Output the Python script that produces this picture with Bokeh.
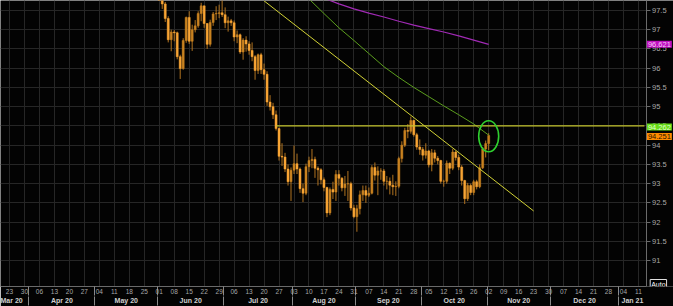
import numpy as np
import pandas as pd
from bokeh.plotting import figure
from bokeh.models import (ColumnDataSource, FixedTicker, LinearAxis, Label,
                          NumeralTickFormatter, Range1d, BoxAnnotation)
from bokeh.embed import file_html
from bokeh.resources import INLINE

# ---------------- data ----------------
axis_origin = "2020-03-23"          # first Monday on the time axis
first_candle = "2020-06-01"

opens = [98.34, 97.83, 97.67, 97.29, 96.74, 96.94, 96.92, 96.30, 95.99, 96.72, 97.32,
         96.70, 97.00, 97.10, 97.42, 97.62, 97.16, 96.62, 97.19, 97.41, 97.42, 97.44,
         97.39, 97.18, 97.23, 97.18, 96.81, 96.87, 96.42, 96.73, 96.63, 96.46, 96.30,
         95.94, 96.35, 95.96, 95.84, 95.12, 95.00, 94.79, 94.43, 93.71, 93.69, 93.38,
         93.05, 93.35, 93.52, 93.38, 92.87, 92.75, 93.44, 93.60, 93.63, 93.40, 93.36,
         93.10, 92.90, 92.24, 92.85, 92.78, 93.24, 93.14, 92.89, 92.99, 93.00, 92.37,
         92.14, 92.35, 92.71, 92.82, 92.70, 92.75, 93.42, 93.22, 93.33, 93.33, 93.06,
         93.06, 92.96, 92.92, 92.93, 93.65, 94.00, 94.38, 94.36, 94.64, 94.27, 93.95,
         93.89, 93.74, 93.85, 93.49, 93.80, 93.66, 93.60, 93.06, 93.06, 93.53, 93.40,
         93.82, 93.68, 93.43, 93.08, 92.61, 92.95, 92.77, 93.05, 92.92, 93.41, 93.90,
         94.04]
highs = [98.40, 98.02, 97.72, 97.35, 97.00, 96.99, 96.95, 96.35, 96.78, 97.34, 97.48,
         97.13, 97.25, 97.48, 97.70, 97.62, 97.17, 97.26, 97.46, 97.61, 97.65, 97.80,
         97.58, 97.34, 97.28, 97.24, 96.98, 96.90, 96.78, 96.83, 96.70, 96.67, 96.34,
         96.38, 96.40, 96.12, 95.92, 95.30, 95.10, 94.90, 94.46, 94.05, 93.80, 93.50,
         93.42, 93.99, 93.78, 93.42, 93.00, 93.52, 93.70, 93.90, 93.70, 93.45, 93.40,
         93.16, 92.92, 92.90, 93.05, 93.35, 93.35, 93.17, 93.20, 93.33, 93.05, 92.45,
         92.45, 92.82, 92.95, 92.95, 92.90, 93.48, 93.55, 93.45, 93.40, 93.38, 93.20,
         93.16, 93.23, 93.06, 93.70, 94.10, 94.45, 94.55, 94.74, 94.66, 94.32, 94.15,
         93.95, 94.05, 93.88, 93.90, 93.88, 93.72, 93.62, 93.10, 93.60, 93.55, 93.90,
         93.85, 93.75, 93.48, 93.10, 93.02, 93.00, 93.10, 93.10, 93.50, 93.95, 94.12,
         94.31]
lows = [97.81, 97.54, 97.20, 96.67, 96.44, 96.70, 96.23, 95.72, 95.96, 96.66, 96.63,
        96.45, 96.93, 97.05, 97.22, 97.05, 96.50, 96.56, 97.10, 97.25, 97.30, 97.33,
        97.04, 96.95, 97.10, 96.70, 96.65, 96.37, 96.22, 96.43, 96.35, 96.18, 95.70,
        95.85, 95.85, 95.70, 95.02, 94.90, 94.68, 94.38, 93.60, 93.46, 93.30, 92.95,
        92.55, 93.25, 93.25, 92.76, 92.52, 92.70, 93.30, 93.40, 93.15, 92.95, 92.98,
        92.80, 92.13, 92.18, 92.60, 92.55, 92.95, 92.80, 92.68, 92.55, 92.30, 92.10,
        91.75, 92.20, 92.55, 92.50, 92.65, 92.72, 93.08, 92.70, 93.10, 92.95, 92.85,
        92.72, 92.70, 92.68, 92.88, 93.55, 93.95, 94.18, 94.30, 94.22, 93.88, 93.75,
        93.60, 93.65, 93.42, 93.32, 93.55, 93.50, 93.00, 92.92, 93.00, 93.25, 93.35,
        93.60, 93.35, 92.95, 92.47, 92.55, 92.70, 92.70, 92.85, 92.88, 93.38, 93.68,
        93.87]
closes = [97.83, 97.67, 97.29, 96.74, 96.94, 96.92, 96.30, 95.99, 96.72, 97.32, 96.70,
          97.00, 97.10, 97.42, 97.62, 97.16, 96.62, 97.19, 97.41, 97.42, 97.44, 97.39,
          97.18, 97.23, 97.18, 96.81, 96.87, 96.42, 96.73, 96.63, 96.46, 96.30, 95.94,
          96.35, 95.96, 95.84, 95.12, 95.00, 94.79, 94.43, 93.71, 93.69, 93.38, 93.05,
          93.35, 93.52, 93.38, 92.87, 92.75, 93.44, 93.60, 93.63, 93.40, 93.36, 93.10,
          92.90, 92.24, 92.85, 92.78, 93.24, 93.14, 92.89, 92.99, 93.00, 92.37, 92.14,
          92.35, 92.71, 92.82, 92.70, 92.75, 93.42, 93.22, 93.33, 93.33, 93.06, 93.06,
          92.96, 92.92, 92.93, 93.65, 94.00, 94.38, 94.36, 94.64, 94.27, 93.95, 93.89,
          93.74, 93.85, 93.49, 93.80, 93.66, 93.60, 93.06, 93.06, 93.53, 93.40, 93.82,
          93.68, 93.43, 93.08, 92.61, 92.95, 92.77, 93.05, 92.92, 93.41, 93.90, 94.04,
          94.25]

ma_green_dates = ["2020-08-03", "2020-08-10", "2020-08-17", "2020-08-24", "2020-08-31",
                  "2020-09-07", "2020-09-14", "2020-09-21", "2020-09-28", "2020-10-05",
                  "2020-10-12", "2020-10-19", "2020-10-26", "2020-11-02"]
ma_green_values = [98.18, 97.80, 97.42, 97.05, 96.72, 96.38, 96.04, 95.76, 95.50, 95.26,
                   95.02, 94.79, 94.55, 94.26]
ma_magenta_dates = ["2020-08-17", "2020-08-24", "2020-08-31", "2020-09-07", "2020-09-14",
                    "2020-09-21", "2020-09-28", "2020-10-05", "2020-10-12", "2020-10-19",
                    "2020-10-26", "2020-11-02"]
ma_magenta_values = [97.82, 97.67, 97.54, 97.43, 97.33, 97.22, 97.12, 97.03, 96.94, 96.84,
                     96.73, 96.62]

trend_dates = ["2020-07-20", "2020-11-23"]
trend_values = [97.75, 92.29]
level_dates = ["2020-07-24", "2021-01-13"]
level_values = [94.50, 94.50]

highlight_date = "2020-11-02"
highlight_value = 94.23

value_tags = ["96.621", "94.262", "94.251"]
value_levels = [96.621, 94.262, 94.251]

day_tick_dates = pd.date_range("2020-03-23", "2021-01-11", freq="W-MON")
month_labels = ["Mar 20", "Apr 20", "May 20", "Jun 20", "Jul 20", "Aug 20",
                "Sep 20", "Oct 20", "Nov 20", "Dec 20", "Jan 21"]
month_starts = pd.date_range("2020-03-01", "2021-02-01", freq="BMS")

y_ticks = [91, 91.5, 92, 92.5, 93, 93.5, 94, 94.5, 95, 95.5, 96, 96.5, 97, 97.5]


def pos(d):
    return int(np.busday_count(np.datetime64(axis_origin), np.datetime64(pd.Timestamp(d).date())))


# ---------------- layout constants ----------------
W, H = 673, 306
PX = 2.995                      # pixels per trading day
X0 = -3.0
X1 = X0 + W / PX                # frame spans the whole width
AX = X0 + 645.5 / PX            # where the price axis sits
Y0, Y1 = 90.327, 97.759
DPX = (Y1 - Y0) / 287.0
BG = "#030303"

p = figure(width=W, height=H, output_backend="svg", toolbar_location=None,
           x_range=Range1d(X0, X1), y_range=Range1d(Y0, Y1),
           y_axis_location="right",
           min_border_left=0, min_border_top=0, min_border_right=0, min_border_bottom=19,
           background_fill_color=BG, border_fill_color=BG, outline_line_color=None)

# x axis (day numbers)
day_pos = [pos(d) for d in day_tick_dates]
month_bounds = [pos(d) - 0.5 for d in month_starts]
xa = p.xaxis[0]
xa.ticker = FixedTicker(ticks=day_pos, minor_ticks=month_bounds)
xa.major_label_overrides = {dp: f"{d.day:02d}" for dp, d in zip(day_pos, day_tick_dates)}
xa.bounds = (X0, AX)
xa.major_tick_out = 0
xa.major_tick_in = 0
xa.minor_tick_out = 0
xa.minor_tick_in = -9
xa.minor_tick_line_color = "#8a8a8a"
xa.axis_line_color = "#6a6a6a"
xa.major_label_text_font = "Liberation Sans"
xa.major_label_text_font_size = "6.5px"
xa.major_label_text_color = "#a8a8a8"
xa.major_label_standoff = 2

# month row
month_centers = []
for i in range(len(month_labels)):
    a = month_bounds[i]
    b = month_bounds[i + 1]
    c = (max(a, X0) + min(b, AX)) / 2.0
    if a < X0:
        c = X0 + 0.05
    month_centers.append(c)
xm = LinearAxis(ticker=FixedTicker(ticks=month_centers, minor_ticks=month_bounds))
xm.major_label_overrides = {c: t for c, t in zip(month_centers, month_labels)}
xm.bounds = (X0, AX)
xm.major_tick_out = 0
xm.major_tick_in = 0
xm.minor_tick_out = 0
xm.minor_tick_in = -9
xm.minor_tick_line_color = "#8a8a8a"
xm.axis_line_color = None
xm.major_label_text_font = "Liberation Sans"
xm.major_label_text_font_style = "bold"
xm.major_label_text_font_size = "7px"
xm.major_label_text_color = "#d0d0d0"
xm.major_label_standoff = 0
p.add_layout(xm, "below")

# y axis (right, drawn at a fixed place inside the canvas)
ya = p.yaxis[0]
ya.fixed_location = AX
ya.ticker = FixedTicker(ticks=y_ticks)
ya.formatter = NumeralTickFormatter(format="0.[0]")
ya.major_tick_out = 4
ya.major_tick_in = 0
ya.minor_tick_out = 0
ya.minor_tick_in = 0
ya.axis_line_color = "#6a6a6a"
ya.major_tick_line_color = "#6a6a6a"
ya.major_label_text_font = "Liberation Sans"
ya.major_label_text_font_size = "7.5px"
ya.major_label_text_color = "#a8a8a8"
ya.major_label_standoff = 2

p.xgrid.grid_line_color = "#262626"
p.ygrid.grid_line_color = "#262626"
try:
    p.ygrid.cross_bounds = (X0, AX)
except Exception:
    p.add_layout(BoxAnnotation(left=AX, fill_color=BG, fill_alpha=1.0,
                               line_color=None, level="underlay"))

# ---------------- candles ----------------
dates = pd.bdate_range(first_candle, periods=len(closes))
xs = [pos(d) for d in dates]
up = [c >= o for o, c in zip(opens, closes)]
src = ColumnDataSource(dict(
    x=xs, high=highs, low=lows,
    top=[max(o, c) for o, c in zip(opens, closes)],
    bottom=[min(o, c) for o, c in zip(opens, closes)],
    color=["#c98220" if u else "#f8a535" for u in up],
))
p.segment(x0="x", y0="low", x1="x", y1="high", source=src, line_color="#b27420", line_width=1)
p.vbar(x="x", width=0.68, top="top", bottom="bottom", source=src,
       fill_color="color", line_color="color", line_width=0.5)

# moving averages
p.line([pos(d) for d in ma_magenta_dates], ma_magenta_values, line_color="#a02ab4", line_width=1.2)
p.line([pos(d) for d in ma_green_dates], ma_green_values, line_color="#5c9e1e", line_width=1)

# drawn lines
p.line([pos(d) for d in trend_dates], trend_values, line_color="#d2d236", line_width=1)
p.line([pos(d) for d in level_dates], level_values, line_color="#c4c42c", line_width=1.2)

# highlight ellipse
p.ellipse(x=[pos(highlight_date)], y=[highlight_value], width=20, height=31,
          width_units="screen", height_units="screen",
          fill_color=None, line_color="#2fcf2f", line_width=1.6)

# value tags on the price axis
tag_styles = [("#c010c0", "#f4c8f4", 0), ("#66dd18", "#e0ffd0", 8), ("#ff8c00", "#2a1200", -1)]
for txt, lvl, (bg, fg, off) in zip(value_tags, value_levels, tag_styles):
    p.add_layout(Label(x=AX + 0.3, y=lvl, y_offset=off,
                       text=txt, text_font="Liberation Sans", text_font_size="7.5px",
                       text_color=fg, text_align="left", text_baseline="middle",
                       background_fill_color=bg, padding=1))

p.add_layout(Label(x=AX + 1.4, y=Y0 + 2.5 * DPX, text="Auto",
                   text_font="Liberation Sans", text_font_size="7px", text_color="#ffffff",
                   text_align="left", text_baseline="middle", background_fill_color="#000000",
                   border_line_color="#e0e0e0", padding=1))

open("out.html", "w").write(file_html(p, INLINE))
